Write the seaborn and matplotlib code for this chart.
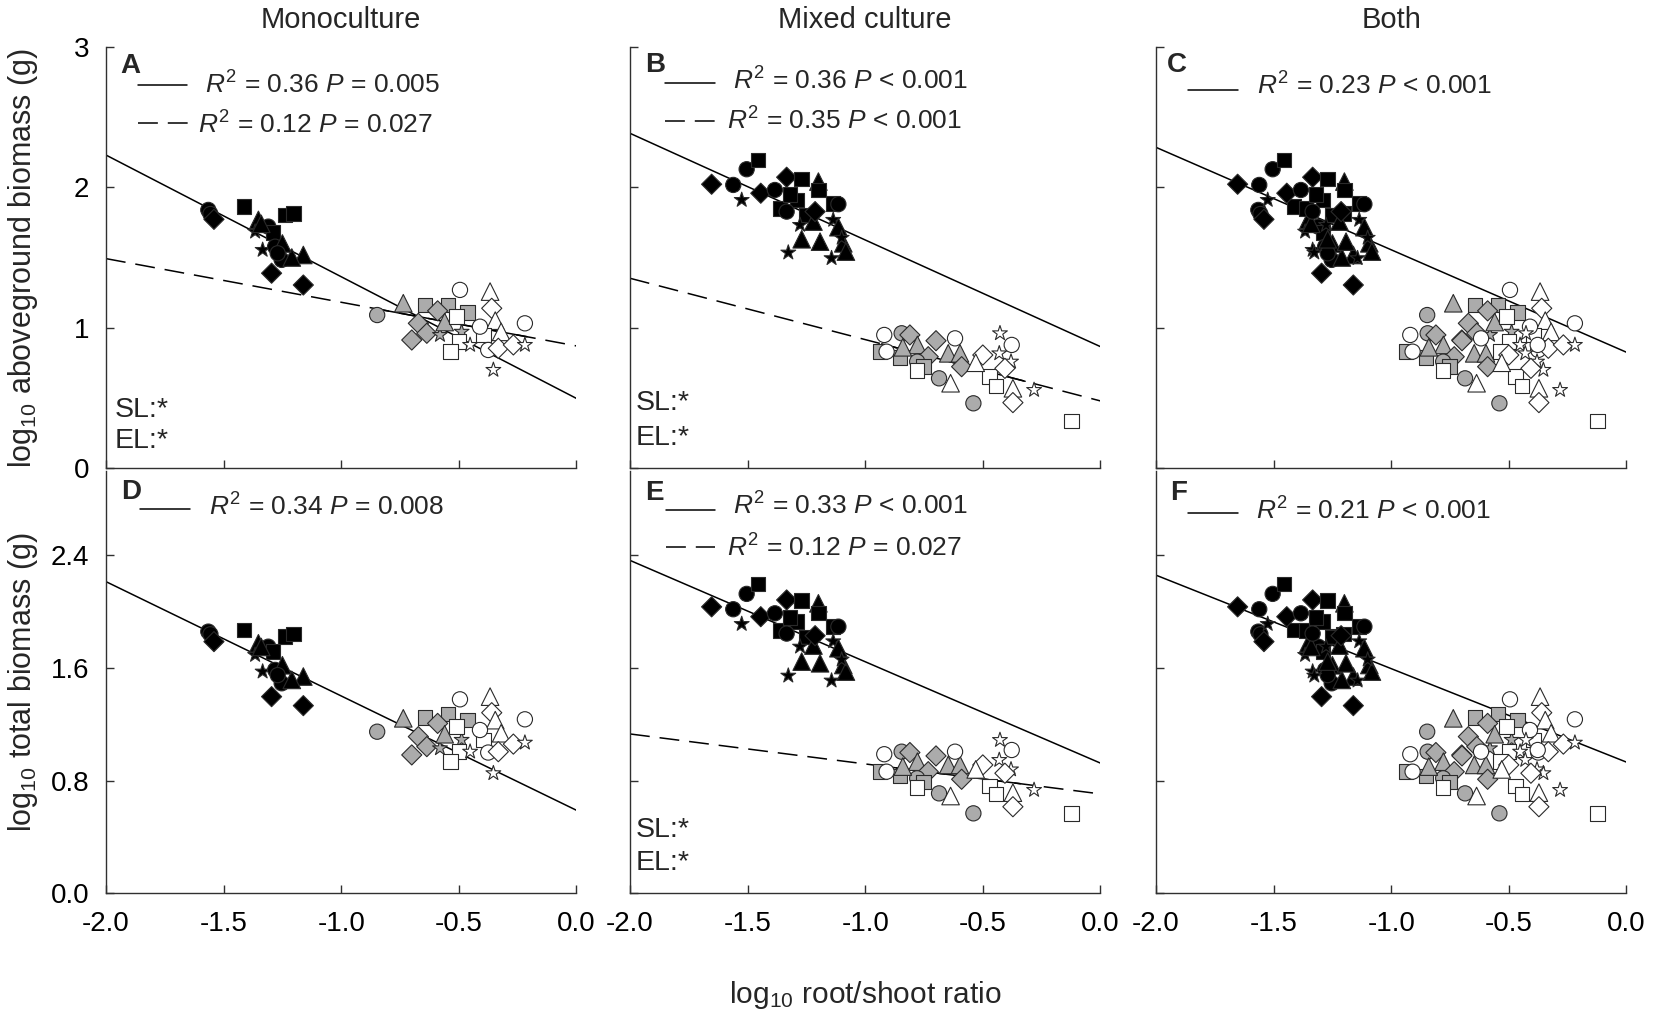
import numpy as np
import pandas as pd
import matplotlib
matplotlib.use('Agg')
import matplotlib.pyplot as plt
import seaborn as sns

# ---------------- data ----------------
# shape codes: C circle, S square, D diamond, T triangle, R star
# monoculture (panels A and D share the root/shoot ratio)
mono_k_shape = list("CCDSSSTCSRRCCTTTDDTC")
mono_k_rs = [-1.565, -1.556, -1.541, -1.413, -1.239, -1.204, -1.352, -1.31, -1.29, -1.366,
             -1.334, -1.281, -1.253, -1.161, -1.21, -1.25, -1.296, -1.161, -1.34, -1.27]
mono_k_ag = [1.839, 1.81, 1.772, 1.862, 1.803, 1.815, 1.768, 1.72, 1.68, 1.684,
             1.554, 1.577, 1.483, 1.518, 1.50, 1.60, 1.388, 1.304, 1.74, 1.53]
mono_k_tot = [1.859, 1.84, 1.788, 1.871, 1.823, 1.842, 1.776, 1.752, 1.716, 1.693,
              1.575, 1.587, 1.492, 1.54, 1.516, 1.62, 1.397, 1.333, 1.75, 1.55]

mono_g_shape = list("CTSSSDDDDRRT")
mono_g_rs = [-0.847, -0.736, -0.644, -0.545, -0.464, -0.672, -0.636, -0.700, -0.59, -0.580, -0.488, -0.56]
mono_g_ag = [1.09, 1.174, 1.162, 1.162, 1.107, 1.031, 0.960, 0.912, 1.12, 0.948, 0.971, 1.04]
mono_g_tot = [1.148, 1.243, 1.25, 1.274, 1.231, 1.113, 1.042, 0.983, 1.207, 1.03, 1.09, 1.13]

mono_w_shape = list("CTDTTCSSSSCCDDRRR")
mono_w_rs = [-0.495, -0.367, -0.36, -0.345, -0.32, -0.219, -0.509, -0.396, -0.50, -0.535,
             -0.41, -0.375, -0.332, -0.268, -0.219, -0.353, -0.452]
mono_w_ag = [1.269, 1.257, 1.138, 1.05, 0.97, 1.031, 1.078, 0.948, 0.900, 0.829,
             1.007, 0.841, 0.853, 0.877, 0.877, 0.699, 0.877]
mono_w_tot = [1.378, 1.397, 1.283, 1.23, 1.137, 1.236, 1.184, 1.089, 1.006, 0.935,
              1.16, 1.0, 1.006, 1.06, 1.070, 0.853, 1.006]

# mixed culture (panels B and E)
mix_k_shape = list("DCCSRDDCSTSSSSSCCSTDTTRRTTTRRR")
mix_k_rs = [-1.653, -1.561, -1.504, -1.455, -1.525, -1.444, -1.334, -1.384, -1.270, -1.199,
            -1.362, -1.29, -1.32, -1.199, -1.136, -1.114, -1.334, -1.249, -1.22, -1.213,
            -1.270, -1.192, -1.277, -1.136, -1.114, -1.093, -1.082, -1.327, -1.143, -1.10]
mix_k_ag = [2.022, 2.017, 2.129, 2.195, 1.910, 1.958, 2.072, 1.981, 2.058, 2.041,
            1.851, 1.91, 1.95, 1.98, 1.886, 1.88, 1.827, 1.803, 1.756, 1.827,
            1.630, 1.613, 1.732, 1.768, 1.716, 1.601, 1.542, 1.535, 1.495, 1.64]
mix_k_tot = [2.035, 2.018, 2.127, 2.198, 1.913, 1.965, 2.084, 1.989, 2.08, 2.060,
             1.866, 1.93, 1.96, 1.99, 1.894, 1.894, 1.845, 1.82, 1.76, 1.83,
             1.646, 1.634, 1.752, 1.79, 1.741, 1.622, 1.575, 1.546, 1.511, 1.66]

mix_g_shape = list("SCDTSDDCSTTDCCT")
mix_g_rs = [-0.937, -0.845, -0.810, -0.778, -0.852, -0.699, -0.732, -0.779, -0.753, -0.647,
            -0.597, -0.590, -0.686, -0.540, -0.84]
mix_g_ag = [0.829, 0.960, 0.948, 0.877, 0.789, 0.907, 0.793, 0.758, 0.722, 0.817,
            0.817, 0.722, 0.639, 0.461, 0.86]
mix_g_tot = [0.864, 1.006, 1.0, 0.935, 0.833, 0.976, 0.864, 0.817, 0.79, 0.912,
             0.912, 0.810, 0.71, 0.568, 0.90]

mix_w_shape = list("CCCSTDSSRCRRDTDRST")
mix_w_rs = [-0.919, -0.909, -0.618, -0.779, -0.637, -0.500, -0.472, -0.444, -0.427, -0.377,
            -0.43, -0.38, -0.406, -0.372, -0.372, -0.282, -0.122, -0.53]
mix_w_ag = [0.948, 0.829, 0.924, 0.694, 0.604, 0.805, 0.651, 0.584, 0.960, 0.877,
            0.817, 0.758, 0.710, 0.568, 0.466, 0.556, 0.335, 0.75]
mix_w_tot = [0.988, 0.864, 1.006, 0.753, 0.691, 0.912, 0.762, 0.706, 1.089, 1.018,
             0.947, 0.88, 0.853, 0.715, 0.615, 0.734, 0.568, 0.88]

# fitted lines (intercept, slope) and the x range of the short solid piece on dashed lines
fit_A_solid = (0.496, -0.867)
fit_A_dash = (0.870, -0.311)
fit_A_piece = (-0.85, -0.21)
fit_B_solid = (0.865, -0.760)
fit_B_dash = (0.478, -0.437)
fit_B_piece = (-0.93, -0.32)
fit_C_solid = (0.825, -0.730)
fit_D_solid = (0.590, -0.812)
fit_E_solid = (0.925, -0.720)
fit_E_dash = (0.706, -0.213)
fit_E_piece = (-0.95, -0.34)
fit_F_solid = (0.932, -0.664)

col_titles = ['Monoculture', 'Mixed culture', 'Both']
stats_A = [r'$R^2$ = 0.36 $P$ = 0.005', r'$R^2$ = 0.12 $P$ = 0.027']
stats_B = [r'$R^2$ = 0.36 $P$ < 0.001', r'$R^2$ = 0.35 $P$ < 0.001']
stats_C = [r'$R^2$ = 0.23 $P$ < 0.001']
stats_D = [r'$R^2$ = 0.34 $P$ = 0.008']
stats_E = [r'$R^2$ = 0.33 $P$ < 0.001', r'$R^2$ = 0.12 $P$ = 0.027']
stats_F = [r'$R^2$ = 0.21 $P$ < 0.001']
top_yticks = [0, 1, 2, 3]
bot_yticks = [0.0, 0.8, 1.6, 2.4]
x_ticks = [-2.0, -1.5, -1.0, -0.5, 0.0]

# ---------------- style ----------------
sns.set_style('ticks')
plt.rcParams['font.family'] = ['Liberation Sans', 'DejaVu Sans']
plt.rcParams['mathtext.fontset'] = 'custom'
plt.rcParams['mathtext.rm'] = 'Liberation Sans'
plt.rcParams['mathtext.it'] = 'Liberation Sans:italic'
plt.rcParams['mathtext.bf'] = 'Liberation Sans:bold'

FACE = {'black': '#000000', 'grey': '#ababab', 'white': '#ffffff'}
MARKERS = {'C': 'o', 'S': 's', 'D': 'D', 'T': '^', 'R': '*'}
SIZES = {'C': 120, 'S': 110, 'D': 105, 'T': 160, 'R': 125}
GROUP_ORDER = ['black', 'grey', 'white']


def group_df(group, shape, rs, ag, tot):
    return pd.DataFrame({'group': group, 'shape': shape, 'rs': rs, 'ag': ag, 'tot': tot})


mono = pd.concat([group_df('black', mono_k_shape, mono_k_rs, mono_k_ag, mono_k_tot),
                  group_df('grey', mono_g_shape, mono_g_rs, mono_g_ag, mono_g_tot),
                  group_df('white', mono_w_shape, mono_w_rs, mono_w_ag, mono_w_tot)], ignore_index=True)
mix = pd.concat([group_df('black', mix_k_shape, mix_k_rs, mix_k_ag, mix_k_tot),
                 group_df('grey', mix_g_shape, mix_g_rs, mix_g_ag, mix_g_tot),
                 group_df('white', mix_w_shape, mix_w_rs, mix_w_ag, mix_w_tot)], ignore_index=True)
both = pd.concat([mono, mix], ignore_index=True)
both['order'] = both['group'].map({g: i for i, g in enumerate(GROUP_ORDER)})
both = both.sort_values('order', kind='stable').drop(columns='order')

fig = plt.figure(figsize=(16.54, 10.16), dpi=100)
W, H = 1654.0, 1016.0
lefts = [106, 630, 1156]
aw = 470.4
rows = [(47, 468), (471, 893.3)]

panels = [
    # row, col, data, ycol, letter, stats, solid, dash, piece, letter pos, stat rows, SL/EL pos
    (0, 0, mono, 'ag', 'A', stats_A, fit_A_solid, fit_A_dash, fit_A_piece,
     (0.030, 0.938), [(0.068, 0.172, 0.910, 0.210, 0.890), (0.068, 0.174, 0.819, 0.196, 0.795)],
     [(0.019, 0.122), (0.019, 0.047)]),
    (0, 1, mix, 'ag', 'B', stats_B, fit_B_solid, fit_B_dash, fit_B_piece,
     (0.032, 0.941), [(0.074, 0.181, 0.914, 0.220, 0.898), (0.074, 0.181, 0.825, 0.206, 0.803)],
     [(0.011, 0.138), (0.011, 0.055)]),
    (0, 2, both, 'ag', 'C', stats_C, fit_C_solid, None, None,
     (0.023, 0.941), [(0.069, 0.175, 0.898, 0.214, 0.886)], []),
    (1, 0, mono, 'tot', 'D', stats_D, fit_D_solid, None, None,
     (0.033, 0.934), [(0.072, 0.179, 0.910, 0.218, 0.894)], []),
    (1, 1, mix, 'tot', 'E', stats_E, fit_E_solid, fit_E_dash, fit_E_piece,
     (0.032, 0.932), [(0.076, 0.181, 0.908, 0.220, 0.896), (0.076, 0.181, 0.821, 0.206, 0.798)],
     [(0.013, 0.134), (0.013, 0.055)]),
    (1, 2, both, 'tot', 'F', stats_F, fit_F_solid, None, None,
     (0.030, 0.932), [(0.069, 0.175, 0.900, 0.213, 0.885)], []),
]

AX_COL = '#303030'
LW = 1.1
DASH = (13, 6.5)
xs = np.array([-2.0, 0.0])

for (r, c, df, ycol, letter, stats, solid, dash, piece, lpos, srows, slel) in panels:
    top, bot = rows[r]
    ax = fig.add_axes([lefts[c] / W, 1 - bot / H, aw / W, (bot - top) / H])

    sns.scatterplot(data=df, x='rs', y=ycol, hue='group', palette=FACE, hue_order=GROUP_ORDER,
                    style='shape', markers=MARKERS, size='shape', sizes=SIZES,
                    edgecolor='#2a2a2a', linewidth=0.8, legend=False, ax=ax, zorder=3)

    ax.plot(xs, solid[0] + solid[1] * xs, color='k', lw=LW, zorder=2)
    if dash is not None:
        ax.plot(xs, dash[0] + dash[1] * xs, color='k', lw=LW, dashes=DASH, zorder=2)
        px = np.array(piece)
        ax.plot(px, dash[0] + dash[1] * px, color='k', lw=LW, zorder=2)

    ax.set_xlim(-2, 0)
    ax.set_ylim(0, 3)
    ax.set_xlabel('')
    ax.set_ylabel('')
    sns.despine(ax=ax)
    for s in ['left', 'bottom']:
        ax.spines[s].set_color(AX_COL)
        ax.spines[s].set_linewidth(1.0)
    ax.tick_params(direction='in', length=6, width=1, color=AX_COL, labelcolor='k', labelsize=20)
    ax.tick_params(axis='y', pad=12)
    ax.tick_params(axis='x', pad=13)

    ax.set_xticks(x_ticks)
    if r == 1:
        ax.set_xticklabels([f'{t:.1f}' for t in x_ticks])
    else:
        ax.set_xticklabels([])
    if r == 0:
        ax.set_yticks(top_yticks)
        ax.set_yticklabels([f'{t:d}' for t in top_yticks] if c == 0 else [])
        ax.set_title(col_titles[c], fontsize=21, pad=14)
    else:
        ax.set_yticks(bot_yticks)
        ax.set_yticklabels([f'{t:.1f}' for t in bot_yticks] if c == 0 else [])

    ax.text(lpos[0], lpos[1], letter, transform=ax.transAxes, fontsize=20,
            fontweight='bold', va='baseline', ha='left')
    for i, (x0, x1, ly, tx, ty) in enumerate(srows):
        kw = {} if i == 0 else {'dashes': DASH}
        ax.plot([x0, x1], [ly, ly], transform=ax.transAxes, color='k', lw=LW, **kw)
        ax.text(tx, ty, stats[i], transform=ax.transAxes, fontsize=19, va='baseline', ha='left')
    for (tx, ty), lab in zip(slel, ['SL:*', 'EL:*']):
        ax.text(tx, ty, lab, transform=ax.transAxes, fontsize=20.5, va='baseline', ha='left')

fig.text(23 / W, 1 - 257.5 / H, r'log$_{10}$ aboveground biomass (g)', rotation=90,
         fontsize=22, ha='center', va='center')
fig.text(23 / W, 1 - 682 / H, r'log$_{10}$ total biomass (g)', rotation=90,
         fontsize=22, ha='center', va='center')
fig.text(865 / W, 1 - 995 / H, r'log$_{10}$ root/shoot ratio', fontsize=21.5, ha='center', va='center')

fig.savefig('out.png', dpi=100)
